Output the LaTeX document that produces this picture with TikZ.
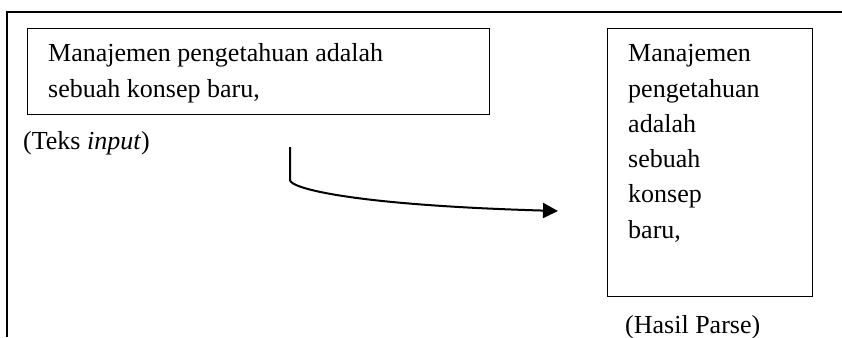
\documentclass[tikz,border=0pt]{standalone}
\usepackage{fontspec}
\setmainfont{Liberation Serif}
\usetikzlibrary{arrows.meta}
\begin{document}
\begin{tikzpicture}[x=1pt,y=-1pt,
  frame/.style={line width=1.8pt},
  box/.style={draw, line width=1.3pt, rectangle, inner sep=0pt, anchor=north west},
  txt/.style={anchor=base west, inner sep=0pt, font=\fontsize{26}{30}\selectfont},
  flow/.style={line width=2pt, -{Triangle[length=15pt,width=15pt]}}]
\useasboundingbox (0,0) rectangle (842,337);
% outer frame (top and left edges)
\draw[frame] (7,337) -- (7,12) -- (842,12);
% input text box
\node[box, minimum width=462pt, minimum height=86pt] (input) at (27,28) {};
\node[txt] (in1) at (48,62) {Manajemen pengetahuan adalah};
\node[txt] (in2) at (48,97.5) {sebuah konsep baru,};
\node[txt] (inlabel) at (23,149) {(Teks \textit{input})};
% parse result box
\node[box, minimum width=205pt, minimum height=268pt] (parse) at (607,28) {};
\node[txt] (p1) at (628,62) {Manajemen};
\node[txt] (p2) at (628,97) {pengetahuan};
\node[txt] (p3) at (628,132) {adalah};
\node[txt] (p4) at (628,167) {sebuah};
\node[txt] (p5) at (628,202.5) {konsep};
\node[txt] (p6) at (628,238) {baru,};
\node[txt] (parselabel) at (625,333) {(Hasil Parse)};
% flow arrow
\coordinate (flowstart) at (290,147);
\coordinate (flowbend) at (290,180);
\coordinate (flowend) at (558,211);
\draw[flow] (flowstart) -- (flowbend) .. controls (290,188) and (350,205) .. (flowend);
\end{tikzpicture}
\end{document}
